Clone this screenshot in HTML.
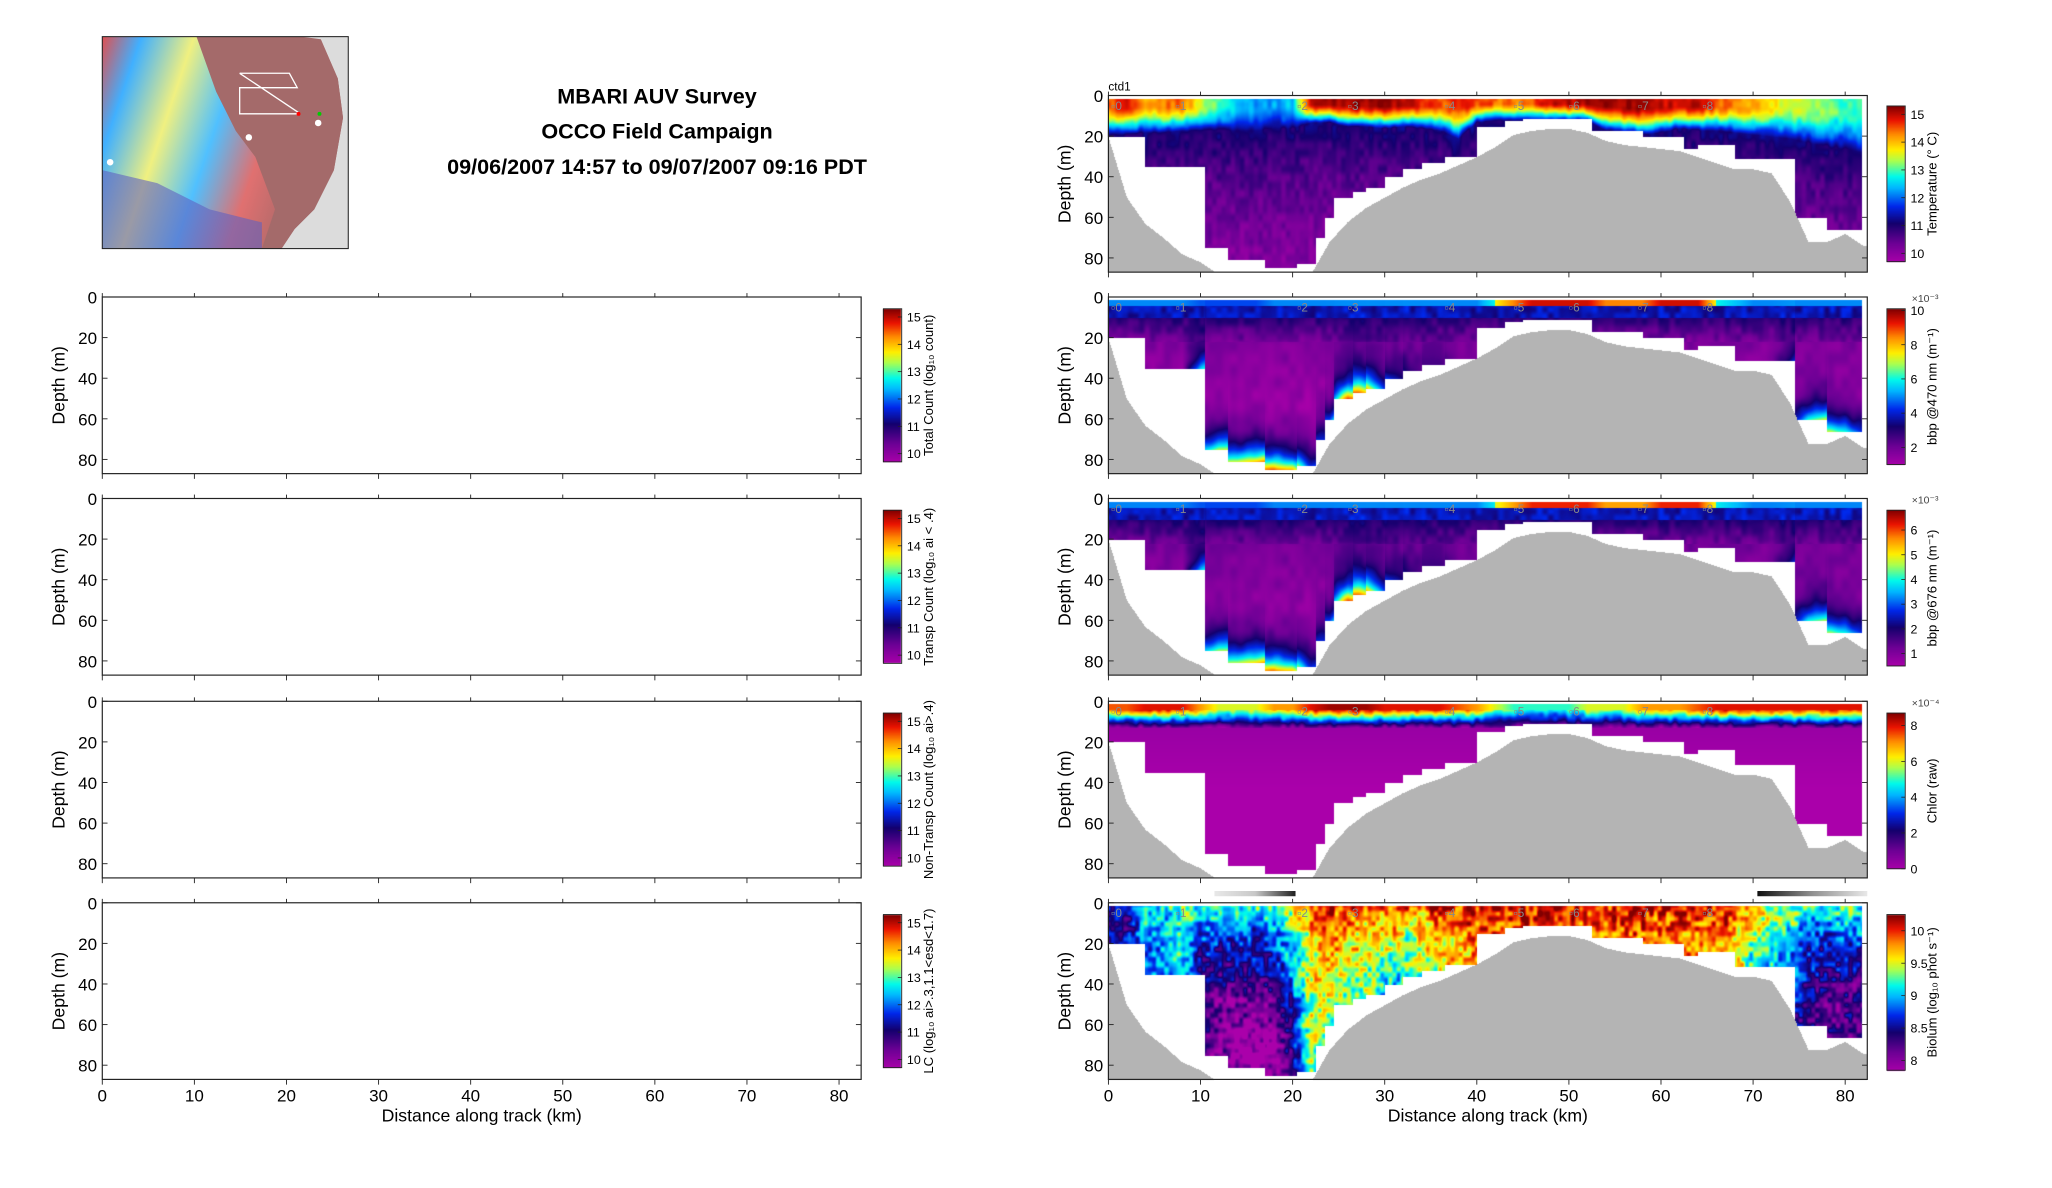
<!DOCTYPE html>
<html><head><meta charset="utf-8"><style>
html,body{margin:0;padding:0;background:#fff;}
#wrap{position:relative;width:2052px;height:1188px;overflow:hidden;}
canvas,svg{position:absolute;left:0;top:0;}
text{font-family:"Liberation Sans","DejaVu Sans",sans-serif;}
</style></head><body>
<div id="wrap">
<canvas id="cv" width="2052" height="1188"></canvas>
<svg id="sv" width="2052" height="1188" viewBox="0 0 1568 908">
 <defs>
  <linearGradient id="mapg" x1="0" y1="0" x2="1" y2="0.3">
   <stop offset="0" stop-color="#e05050"/><stop offset="0.15" stop-color="#40b0ff"/><stop offset="0.35" stop-color="#f0f080"/><stop offset="0.55" stop-color="#50c0ff"/><stop offset="0.75" stop-color="#e07070"/><stop offset="1" stop-color="#a06868"/>
  </linearGradient>
  <linearGradient id="gb1" x1="0" x2="1"><stop offset="0" stop-color="#e8e8e8"/><stop offset="0.5" stop-color="#c8c8c8"/><stop offset="1" stop-color="#202020"/></linearGradient>
  <linearGradient id="gb2" x1="0" x2="1"><stop offset="0" stop-color="#101010"/><stop offset="0.5" stop-color="#909090"/><stop offset="1" stop-color="#e8e8e8"/></linearGradient>
 </defs>
 <g>
  <rect x="78" y="28" width="188" height="162" fill="#dcdcdc"/>
  <path d="M78,28 L150,28 L170,40 L200,35 L230,40 L245,30 L258,60 L262,90 L255,130 L240,160 L225,175 L215,190 L78,190 Z" fill="url(#mapg)"/>
  <path d="M150,28 L230,28 L245,30 L258,60 L262,90 L255,130 L240,160 L225,175 L215,190 L200,190 L210,160 L195,120 L180,100 L165,70 Z" fill="#a46a6a"/>
  <path d="M78,130 L120,140 L160,160 L200,170 L200,190 L78,190 Z" fill="#6060c0" opacity="0.6"/>
  <polyline points="183,56 221,56 227,67 183,67 183,87 227,87" fill="none" stroke="#fff" stroke-width="1"/>
  <line x1="183" y1="56" x2="228" y2="86" stroke="#fff" stroke-width="1"/>
  <circle cx="228" cy="87" r="1.5" fill="#f00"/><circle cx="244" cy="87" r="1.5" fill="#0c0"/>
  <circle cx="243" cy="94" r="2.5" fill="#fff"/><circle cx="190" cy="105" r="2.5" fill="#fff"/><circle cx="84" cy="124" r="2.5" fill="#fff"/>
  <rect x="78" y="28" width="188" height="162" fill="none" stroke="#222" stroke-width="0.8"/>
 </g>
 <g font-weight="bold" font-size="16.5" text-anchor="middle" fill="#000">
  <text x="502" y="79">MBARI AUV Survey</text>
  <text x="502" y="106">OCCO Field Campaign</text>
  <text x="502" y="133">09/06/2007 14:57 to 09/07/2007 09:16 PDT</text>
 </g>
 <text x="847" y="69" font-size="9">ctd1</text>
 <rect x="928" y="681" width="62" height="4" fill="url(#gb1)"/>
 <rect x="1343" y="681" width="84" height="4" fill="url(#gb2)"/>
 <g id="axes"></g>
</svg>
</div>
<script>
// ---------- data ----------
const kmGrid = [0,2,4,6,8,10,12,14,16,18,20,22,24,26,28,30,32,34,36,38,40,42,44,46,48,50,52,54,56,58,60,62,64,66,68,70,72,74,76,78,80,82];
const bathyDepth = [20,50,63,70,78,82,88,90,90,90,90,88,72,62,55,50,45,41,38,34,30,25,19,17,16,16,18,22,24,25,26,27,30,33,36,36,38,52,72,72,68,74];
const stepStartKm = [0,4,10.5,13,17,20.5,22.5,23.5,24.5,26.5,28,30,32,34,36.5,40,43,45,52.5,58,62.5,64,68,74.5,78];
const stepDepth   = [20,35,75,81,85,83,70,60,50,47,45,40,36,33,30,15,12,11,17,20,26,24,31,60,66];
const tempSurf = [14.5,14.8,14,14.3,14.5,13.5,13,12.6,12.3,12.3,12.5,15,15.2,15.2,15.2,15.2,15,14.8,14.5,14.8,14.5,14.5,14.3,14.5,15,15,15.2,15.2,15.2,15.2,15,15,15,14.5,14.3,14.2,13.8,13.5,13.5,13.2,13,13];
const tempMld  = [19,19,18,18,17,17,17,17,17,16,16,13,13,15,15,16,15,16,17,21,13,12,12,12,12,12,12,17,18,19,18,16,17,17,18,19,20,21,23,25,26,28];
const bbpSurf  = [5,5,5,5,5,4.5,4.5,4.5,4.5,5,5,5,5,5,5,5,5,5,5,5,5,6,7,8,8,8,8,7,7,7,8,8,8,6,5.5,5,5,5,5,5,5,5];
const bbpBottom= [0,0,0,0,0,4,6,6,7,8,7,3,3,8,7,3,2,1,1,0,0,0,0,0,0,0,0,0,0,0,0,0,0,0,0,0,0,2,5,6,5,3];
const chlSurf  = [7.5,7.5,8,8,8,7,6,6,6,7,7,8,8.5,8.5,8.5,8,8,8,8,7.5,7,6,5,5,5,5,6,6,6,7,7,7,7.5,8,8,8,8,8,8,8,8,8];
const bioSurf  = [8.6,8.6,9.1,9.2,9.3,9.3,9.3,9.3,9.3,9.3,9.6,10.0,10.2,10.1,10.0,10.0,10.0,10.0,10.1,10.0,10.0,10.1,10.1,10.1,10.1,10.1,10.1,10.1,10.1,10.1,10.1,10.1,10.1,10.0,10.0,9.7,9.5,9.4,9.3,9.3,9.3,9.3];
const bioDeep  = [8.4,8.4,8.8,8.9,8.9,8.0,7.7,7.6,7.6,7.7,8.3,9.2,9.0,8.9,8.9,8.8,8.8,8.9,9.2,9.5,9.6,9.6,9.6,9.6,9.6,9.6,9.6,9.6,9.6,9.6,9.6,9.6,9.6,9.5,9.3,9.0,8.9,8.5,8.2,8.0,8.0,8.0];
const bioScale = [15,15,30,30,30,35,40,40,40,40,40,45,40,40,40,35,30,30,30,30,30,30,30,30,30,30,30,30,30,30,30,30,30,30,25,25,25,30,30,30,30,30];
const xTicks = [0,10,20,30,40,50,60,70,80];
const yTicks = [0,20,40,60,80];
const panelTops = [73,227,381,536,690];
const rightCbar = [
 {label:'Temperature (° C)', lo:9.7, hi:15.3, ticks:[10,11,12,13,14,15], sup:''},
 {label:'bbp @470 nm (m⁻¹)', lo:1, hi:10.1, ticks:[2,4,6,8,10], sup:'×10⁻³'},
 {label:'bbp @676 nm (m⁻¹)', lo:0.5, hi:6.8, ticks:[1,2,3,4,5,6], sup:'×10⁻³'},
 {label:'Chlor (raw)', lo:0, hi:8.7, ticks:[0,2,4,6,8], sup:'×10⁻⁴'},
 {label:'Biolum (log₁₀ phot s⁻¹)', lo:7.85, hi:10.25, ticks:[8,8.5,9,9.5,10], sup:''}
];
const leftLabels = ['Total Count (log₁₀ count)','Transp Count (log₁₀ ai < .4)','Non-Transp Count (log₁₀ ai>.4)','LC (log₁₀ ai>.3,1.1<esd<1.7)'];
const leftTicks = [10,11,12,13,14,15];

// ---------- geometry ----------
const S = 2052/1568, PH = 135, DMAX = 87, KMAX = 82.4, PW = 580;
const RX = 847, LX = 78;
function interp(arr, km){ const i=Math.max(0,Math.min(kmGrid.length-2,Math.floor(km/2))); const t=Math.max(0,Math.min(1,(km-kmGrid[i])/2)); return arr[i]*(1-t)+arr[i+1]*t; }
function dataBottom(km){ let d=stepDepth[0]; for(let i=0;i<stepStartKm.length;i++){ if(stepStartKm[i]<=km) d=stepDepth[i]; } return d; }
const cmap=[[0,170,0,170],[0.12,110,0,150],[0.25,20,0,110],[0.36,0,40,235],[0.48,0,185,255],[0.55,0,250,235],[0.65,170,255,80],[0.72,255,240,0],[0.82,255,140,0],[0.91,235,20,0],[1,130,0,0]];
function col(t){ t=Math.max(0,Math.min(1,t)); for(let i=0;i<cmap.length-1;i++){ const a=cmap[i],b=cmap[i+1]; if(t<=b[0]){ const u=(t-a[0])/(b[0]-a[0]); return [a[1]+(b[1]-a[1])*u,a[2]+(b[2]-a[2])*u,a[3]+(b[3]-a[3])*u]; } } return [130,0,0]; }
// deterministic value-noise texture (not data)
function hsh(i,j){ const s=Math.sin(i*127.1+j*311.7)*43758.5453; return (s-Math.floor(s))*2-1; }
function vnoise(x,y){ const i=Math.floor(x), j=Math.floor(y), u=x-i, v=y-j; const a=hsh(i,j),b=hsh(i+1,j),c=hsh(i,j+1),d=hsh(i+1,j+1); const su=u*u*(3-2*u), sv=v*v*(3-2*v); return a+(b-a)*su+(c-a)*sv+(a-b-c+d)*su*sv; }
function tex(km,d,sx,sy){ return vnoise(km/sx, d/sy); }

function fTemp(km,d){ const ts=interp(tempSurf,km), m=interp(tempMld,km), s=m*0.3; let v; if(d<s) v=ts; else if(d<m) v=ts+(11.1-ts)*Math.pow((d-s)/(m-s),1.4); else v=11.1-1.3*(1-Math.exp(-(d-m)/50)); return v+0.25*tex(km,d,0.5,4); }
function fBbp(km,d,scale){ const su=interp(bbpSurf,km), bb=interp(bbpBottom,km), bot=dataBottom(km); let v; if(d<4) v=su+(su>6?1.5:0); else if(d<10) v=3.8+0.5*tex(km,d,0.6,3); else if(d<22) v=3.0-(d-10)*0.09+0.4*tex(km,d,0.6,4); else v=1.8-Math.min(0.6,(d-22)*0.02)+0.3*tex(km,d,0.8,6); v+=bb*Math.exp(-Math.max(0,bot-d)/9); return v*scale; }
function fChl(km,d){ const su=interp(chlSurf,km); if(d<4) return su; if(d<13) return su*(1-(d-4)/9)+0.5*((d-4)/9)+0.7*tex(km,d,0.5,3); return 0.3-Math.min(0.3,(d-13)*0.01); }
function fBio(km,d){ const s=interp(bioSurf,km), dp=interp(bioDeep,km), h=interp(bioScale,km); return dp+(s-dp)*Math.exp(-d/h)+0.35*tex(km,d,0.45,2.5)+0.15*tex(km+50,d,1.5,8); }
const fields=[fTemp,(k,d)=>fBbp(k,d,1),(k,d)=>fBbp(k,d,0.65),fChl,fBio];

// ---------- draw heatmaps ----------
const cv=document.getElementById('cv'), ctx=cv.getContext('2d');
ctx.fillStyle='#fff'; ctx.fillRect(0,0,2052,1188);
fields.forEach((f,p)=>{
 const x0=Math.round(RX*S), x1=Math.round((RX+PW)*S), y0=Math.round(panelTops[p]*S), y1=Math.round((panelTops[p]+PH)*S);
 const w=x1-x0, h=y1-y0, img=ctx.createImageData(w,h), cb=rightCbar[p];
 for(let i=0;i<w;i++){ const km=(i/w)*KMAX, bath=interp(bathyDepth,km), bot=dataBottom(km);
  for(let j=0;j<h;j++){ const d=(j/h)*DMAX, k=(j*w+i)*4; let c;
   if(d>=bath) c=[180,180,180]; else if(d>bot||km>81.8||d<1.3) c=[255,255,255]; else c=col((f(km,d)-cb.lo)/(cb.hi-cb.lo));
   img.data[k]=c[0]; img.data[k+1]=c[1]; img.data[k+2]=c[2]; img.data[k+3]=255; } }
 ctx.putImageData(img,x0,y0);
});
function drawCbar(x,y,hgt){ const X=Math.round(x*S),Y=Math.round(y*S),W=Math.round(14*S),H=Math.round(hgt*S); for(let j=0;j<H;j++){ const c=col(1-j/H); ctx.fillStyle=`rgb(${c[0]|0},${c[1]|0},${c[2]|0})`; ctx.fillRect(X,Y+j,W,1);} }
const cbOff=[8,9,9,9,9];
panelTops.forEach((t,p)=>{ drawCbar(1442,t+cbOff[p],119); if(p>0) drawCbar(675,t+9,117); });

// ---------- axes ----------
const NS='http://www.w3.org/2000/svg', g=document.getElementById('axes');
function el(tag,attrs,parent,txt){ const e=document.createElementNS(NS,tag); for(const k in attrs) e.setAttribute(k,attrs[k]); if(txt!==undefined) e.textContent=txt; (parent||g).appendChild(e); return e; }
function drawAxes(x0,top,idx,side,isBottom){
 const ax=el('g',{});  
 el('rect',{x:x0,y:top,width:PW,height:PH,fill:'none',stroke:'#222','stroke-width':0.9},ax);
 yTicks.forEach(v=>{ const y=top+v*PH/DMAX; el('line',{x1:x0,y1:y,x2:x0+4,y2:y,stroke:'#222','stroke-width':0.7},ax); el('line',{x1:x0+PW,y1:y,x2:x0+PW-4,y2:y,stroke:'#222','stroke-width':0.7},ax);
  const t=el('text',{x:x0-4,y:y+5,'font-size':13,'text-anchor':'end'},ax,String(v));   });
 xTicks.forEach(v=>{ const x=x0+v*PW/KMAX; el('line',{x1:x,y1:top+PH,x2:x,y2:top+PH+4,stroke:'#222','stroke-width':0.7},ax); el('line',{x1:x,y1:top,x2:x,y2:top-3,stroke:'#222','stroke-width':0.7},ax);
  if(isBottom){ const t=el('text',{x:x,y:top+PH+17,'font-size':13,'text-anchor':'middle'},ax,String(v));   } });
 const yl=el('text',{x:0,y:0,'font-size':13.5,'text-anchor':'middle',transform:`translate(${x0-29},${top+PH/2}) rotate(-90)`},ax,'Depth (m)');  
 if(isBottom){ const xl=el('text',{x:x0+290,y:top+PH+32,'font-size':13.5,'text-anchor':'middle'},ax,'Distance along track (km)');   }
 if(side==='right'){ const kms=[0.3,7.3,20.5,26,36.5,44,50,57.5,64.5]; ['0','1','2','3','4','5','6','7','8'].forEach((s,i)=>{ const t=el('text',{x:x0+kms[i]*PW/KMAX,y:top+11,'font-size':9,fill:'#888'},ax,'▫'+s);   }); }
}
function drawCbarAxis(x,top,hgt,lo,hi,ticks,label,sup,name){
 const cg=el('g',{});  
 el('rect',{x:x,y:top,width:14,height:hgt,fill:'none',stroke:'#222','stroke-width':0.7},cg);
 ticks.forEach(v=>{ const y=top+hgt*(1-(v-lo)/(hi-lo)); el('line',{x1:x+14,y1:y,x2:x+11,y2:y,stroke:'#222','stroke-width':0.6},cg); el('text',{x:x+18,y:y+3.5,'font-size':9.5},cg,String(v)); });
 el('text',{x:0,y:0,'font-size':10,'text-anchor':'middle',transform:`translate(${x+38},${top+hgt/2}) rotate(-90)`},cg,label);
 if(sup) el('text',{x:x+19,y:top-5,'font-size':8,fill:'#444'},cg,sup);
}
panelTops.forEach((t,p)=>{
 drawAxes(RX,t,p,'right',p===4);
 if(p>0) drawAxes(LX,t,p,'left',p===4);
 const c=rightCbar[p]; drawCbarAxis(1442,t+cbOff[p],119,c.lo,c.hi,c.ticks,c.label,c.sup,'colorbar-right-'+(p+1));
 if(p>0) drawCbarAxis(675,t+9,117,9.7,15.3,leftTicks,leftLabels[p-1],'','colorbar-left-'+p);
});
</script>
</body></html>
